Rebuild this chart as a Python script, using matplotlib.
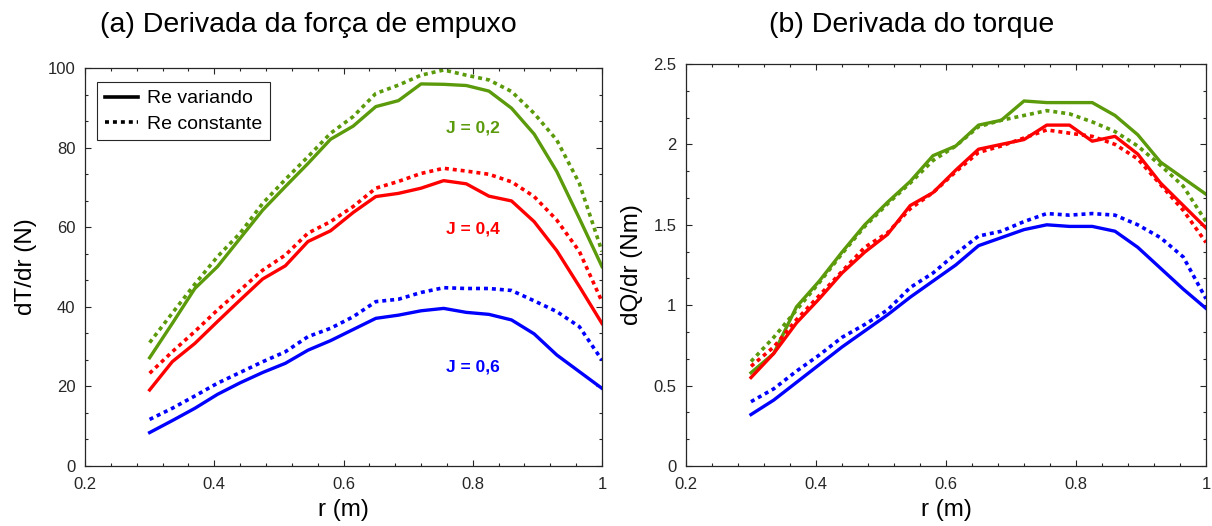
import numpy as np
import matplotlib
matplotlib.use("Agg")
import matplotlib.pyplot as plt
from matplotlib.lines import Line2D
from matplotlib.ticker import AutoMinorLocator

plt.rcParams['font.family'] = ['Liberation Sans', 'DejaVu Sans']

# radial stations (m)
r = np.linspace(0.3, 1.0, 21)

# (a) thrust derivative dT/dr (N)
dT_j02_var = [27.2, 35.8, 44.6, 50.1, 57.2, 64.3, 70.2, 76.0, 82.1, 85.4, 90.3,
              91.8, 96.0, 95.9, 95.6, 94.2, 89.9, 83.4, 74.0, 62.2, 50.1]
dT_j02_const = [31.0, 38.4, 45.7, 52.6, 58.5, 66.0, 72.0, 77.7, 83.6, 87.8, 93.6,
                95.7, 98.2, 99.5, 98.2, 97.0, 94.1, 88.6, 81.9, 71.0, 53.9]
dT_j04_var = [19.1, 26.2, 30.8, 36.3, 41.7, 47.0, 50.3, 56.4, 59.1, 63.7, 67.7,
              68.5, 69.8, 71.7, 70.9, 67.8, 66.6, 61.4, 54.1, 45.1, 35.8]
dT_j04_const = [23.3, 28.7, 33.8, 39.2, 44.2, 49.2, 53.0, 58.5, 61.4, 65.2, 69.8,
                71.5, 73.5, 74.8, 74.1, 73.3, 71.4, 67.7, 61.8, 53.9, 41.3]
dT_j06_var = [8.4, 11.4, 14.5, 18.0, 20.9, 23.5, 25.8, 29.1, 31.5, 34.3, 37.1,
              37.9, 39.0, 39.6, 38.6, 38.1, 36.7, 33.2, 27.9, 23.7, 19.5]
dT_j06_const = [11.7, 14.5, 17.6, 20.8, 23.5, 26.2, 28.7, 32.5, 34.6, 37.5, 41.3,
                41.9, 43.6, 44.8, 44.6, 44.6, 44.1, 41.5, 38.8, 35.0, 26.6]

# (b) torque derivative dQ/dr (Nm)
dQ_j02_var = [0.58, 0.70, 0.99, 1.15, 1.33, 1.50, 1.64, 1.77, 1.93, 1.99, 2.12,
              2.15, 2.27, 2.26, 2.26, 2.26, 2.18, 2.06, 1.89, 1.79, 1.69]
dQ_j02_const = [0.65, 0.80, 0.97, 1.14, 1.32, 1.49, 1.63, 1.76, 1.90, 1.99, 2.11,
                2.15, 2.18, 2.21, 2.19, 2.14, 2.08, 1.99, 1.87, 1.74, 1.52]
dQ_j04_var = [0.55, 0.70, 0.89, 1.04, 1.20, 1.33, 1.44, 1.62, 1.70, 1.84, 1.97,
              2.00, 2.03, 2.12, 2.12, 2.02, 2.05, 1.94, 1.76, 1.62, 1.48]
dQ_j04_const = [0.62, 0.74, 0.91, 1.06, 1.21, 1.36, 1.45, 1.60, 1.70, 1.83, 1.95,
                1.99, 2.04, 2.09, 2.07, 2.05, 2.00, 1.91, 1.75, 1.59, 1.39]
dQ_j06_var = [0.32, 0.41, 0.52, 0.63, 0.74, 0.84, 0.94, 1.05, 1.15, 1.25, 1.37,
              1.42, 1.47, 1.50, 1.49, 1.49, 1.46, 1.36, 1.23, 1.10, 0.98]
dQ_j06_const = [0.40, 0.48, 0.59, 0.69, 0.80, 0.88, 0.97, 1.11, 1.20, 1.32, 1.43,
                1.46, 1.52, 1.57, 1.56, 1.57, 1.56, 1.50, 1.42, 1.30, 1.04]

j_labels = ['J = 0,2', 'J = 0,4', 'J = 0,6']
j_label_y = [85, 59.5, 25]
colors = ['#5b9a0b', '#ff0000', '#0000ff']
dotted = (0, (1.1, 1.1))
frame = '#262626'

fig = plt.figure(figsize=(12.12, 5.26), dpi=100)
W, H = 1212, 526
ax1 = fig.add_axes([85 / W, 1 - 466 / H, 517 / W, 398 / H])
ax2 = fig.add_axes([686 / W, 1 - 466 / H, 520 / W, 402 / H])


def style_axes(ax, ylim, yticks, ylabel, ylab_x):
    ax.set_xlim(0.2, 1.0)
    ax.set_ylim(*ylim)
    ax.set_xticks([0.2, 0.4, 0.6, 0.8, 1.0])
    ax.set_xticklabels(['0.2', '0.4', '0.6', '0.8', '1'])
    ax.set_yticks(yticks)
    ax.xaxis.set_minor_locator(AutoMinorLocator(5))
    ax.yaxis.set_minor_locator(AutoMinorLocator(3))
    ax.tick_params(which='both', direction='in', top=True, right=True,
                   colors=frame, labelsize=12, width=0.8)
    ax.tick_params(which='major', length=4.5)
    ax.tick_params(which='minor', length=2.5)
    ax.tick_params(axis='x', pad=8)
    ax.tick_params(axis='y', pad=7)
    for s in ax.spines.values():
        s.set_color(frame)
        s.set_linewidth(0.9)
    ax.set_xlabel('r (m)', fontsize=17.5)
    ax.xaxis.set_label_coords(0.5, -0.082)
    ax.set_ylabel(ylabel, fontsize=17.5)
    ax.yaxis.set_label_coords(ylab_x, 0.5)


series_a = [(dT_j02_var, dT_j02_const), (dT_j04_var, dT_j04_const),
            (dT_j06_var, dT_j06_const)]
series_b = [(dQ_j02_var, dQ_j02_const), (dQ_j04_var, dQ_j04_const),
            (dQ_j06_var, dQ_j06_const)]

for (var, const), c in zip(series_a, colors):
    ax1.plot(r, const, color=c, lw=2.6, linestyle=dotted)
    ax1.plot(r, var, color=c, lw=2.4)
for lab, yy, c in zip(j_labels, j_label_y, colors):
    ax1.text(0.8, yy, lab, color=c, fontsize=12.5, fontweight='bold',
             ha='center', va='center')

for (var, const), c in zip(series_b, colors):
    ax2.plot(r, const, color=c, lw=2.6, linestyle=dotted)
    ax2.plot(r, var, color=c, lw=2.4)

style_axes(ax1, (0, 100), [0, 20, 40, 60, 80, 100], 'dT/dr (N)', -0.093)
style_axes(ax2, (0, 2.5), [0, 0.5, 1, 1.5, 2, 2.5], 'dQ/dr (Nm)', -0.083)
ax2.set_yticklabels(['0', '0.5', '1', '1.5', '2', '2.5'])

handles = [Line2D([], [], color='black', lw=2.6),
           Line2D([], [], color='black', lw=2.6, linestyle=dotted)]
leg = ax1.legend(handles, ['Re variando', 'Re constante'], loc='upper left',
                 bbox_to_anchor=(0.024, 0.965), fontsize=14, fancybox=False,
                 edgecolor=frame, framealpha=1, handlelength=1.7,
                 handletextpad=0.45, borderpad=0.4, labelspacing=0.4,
                 borderaxespad=0)
leg.get_frame().set_linewidth(0.8)

fig.text(308 / W, 1 - 25 / H, '(a) Derivada da força de empuxo', fontsize=20.5,
         ha='center', va='center')
fig.text(912 / W, 1 - 25 / H, '(b) Derivada do torque', fontsize=20.5,
         ha='center', va='center')

fig.savefig('out.png', dpi=100)
